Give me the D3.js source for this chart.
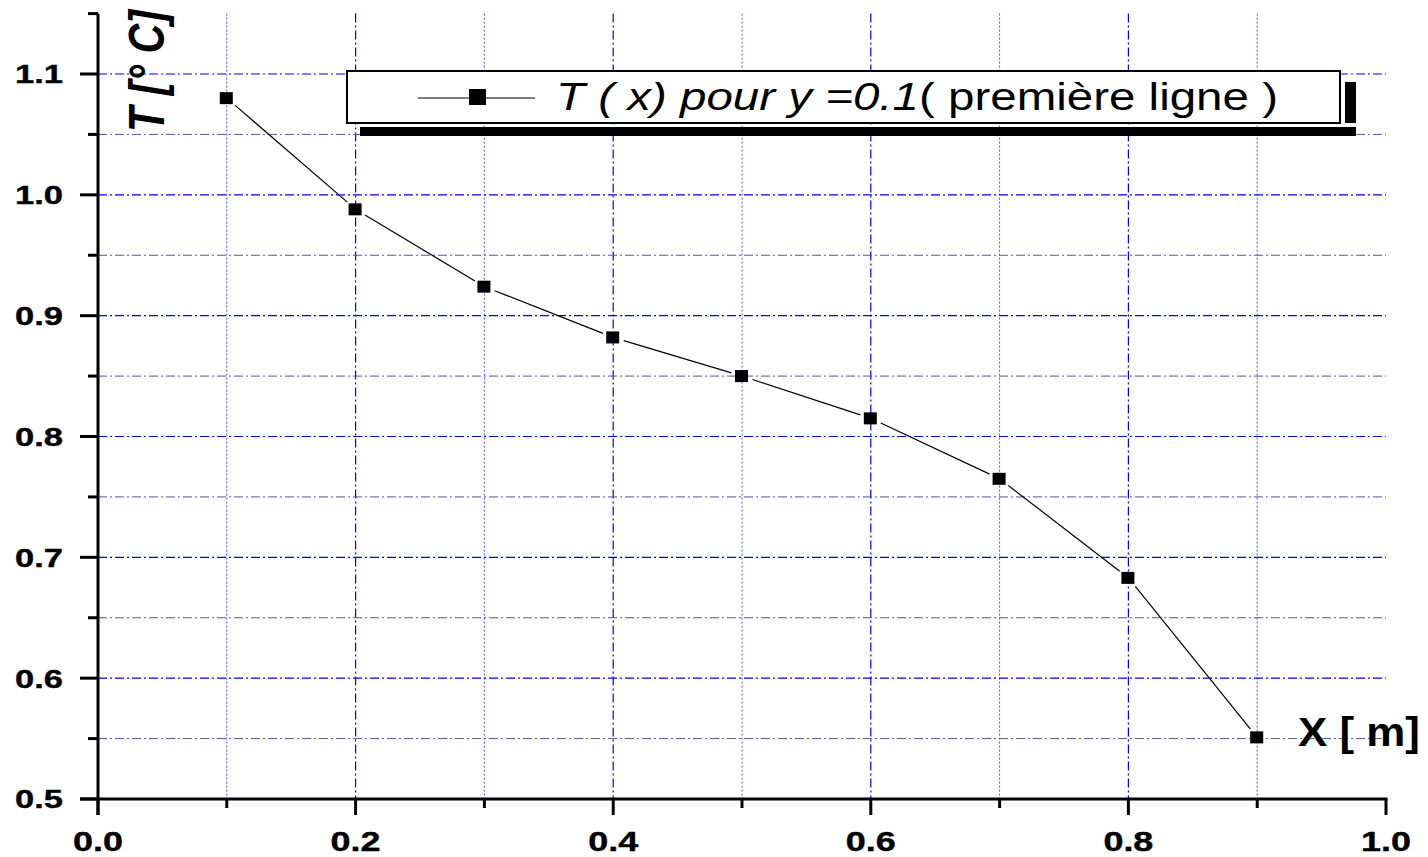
<!DOCTYPE html>
<html><head><meta charset="utf-8">
<script src="https://cdn.jsdelivr.net/npm/d3@7"></script>
<style>body{margin:0;background:#fff}svg{display:block}</style>
</head><body>
<svg id="c" width="1428" height="857"></svg>
<script>
const xValues = [0.1,0.2,0.3,0.4,0.5,0.6,0.7,0.8,0.9];
const tValues = [1.080,0.988,0.924,0.882,0.850,0.815,0.765,0.683,0.551];
const xTicks = [0.0,0.2,0.4,0.6,0.8,1.0];
const xMinor = [0.1,0.3,0.5,0.7,0.9];
const yTicks = [0.5,0.6,0.7,0.8,0.9,1.0,1.1];
const yMinor = [0.55,0.65,0.75,0.85,0.95,1.05,1.15];
const legendItalic = "T ( x) pour y =0.1";
const legendNormal = "( première ligne )";

const svg = d3.select("#c");
const x = d3.scaleLinear().domain([0,1]).range([98,1386]);
const y = d3.scaleLinear().domain([0.5,1.1]).range([799,74]);
const yTop = y(1.15);
const font = "'Liberation Sans', Arial, sans-serif";

// grid
const g = svg.append("g");
g.selectAll(".vmaj").data(xTicks.filter(d=>d>0&&d<1)).join("line")
  .attr("x1",d=>x(d)).attr("x2",d=>x(d)).attr("y1",yTop).attr("y2",y(0.5))
  .attr("stroke","#0000ff").attr("stroke-width",1.2).attr("stroke-dasharray","9,3,2,3");
g.selectAll(".vmin").data(xMinor).join("line")
  .attr("x1",d=>x(d)).attr("x2",d=>x(d)).attr("y1",yTop).attr("y2",y(0.5))
  .attr("stroke","#4d4dff").attr("stroke-width",1).attr("stroke-dasharray","2,2");
g.selectAll(".hmaj").data(yTicks.filter(d=>d>0.5)).join("line")
  .attr("x1",x(0)).attr("x2",x(1)).attr("y1",d=>y(d)).attr("y2",d=>y(d))
  .attr("stroke","#0000ff").attr("stroke-width",1.2).attr("stroke-dasharray","9,3,2,3");
g.selectAll(".hmin").data(yMinor.filter(d=>d<1.1)).join("line")
  .attr("x1",x(0)).attr("x2",x(1)).attr("y1",d=>y(d)).attr("y2",d=>y(d))
  .attr("stroke","#5555a0").attr("stroke-width",1).attr("stroke-dasharray","9,3,2,3");

// axes
const ax = svg.append("g").attr("stroke","#000");
ax.append("line").attr("x1",x(0)).attr("x2",x(0)).attr("y1",yTop).attr("y2",y(0.5)+16).attr("stroke-width",3);
ax.append("line").attr("x1",x(0)-18).attr("x2",x(1)+1.5).attr("y1",y(0.5)).attr("y2",y(0.5)).attr("stroke-width",3);
ax.selectAll(".yt").data(yTicks).join("line").attr("x1",x(0)-18).attr("x2",x(0)).attr("y1",d=>y(d)).attr("y2",d=>y(d)).attr("stroke-width",3);
ax.selectAll(".ym").data(yMinor).join("line").attr("x1",x(0)-10).attr("x2",x(0)).attr("y1",d=>y(d)).attr("y2",d=>y(d)).attr("stroke-width",3);
ax.selectAll(".xt").data(xTicks).join("line").attr("x1",d=>x(d)).attr("x2",d=>x(d)).attr("y1",y(0.5)).attr("y2",y(0.5)+16).attr("stroke-width",3);
ax.selectAll(".xm").data(xMinor).join("line").attr("x1",d=>x(d)).attr("x2",d=>x(d)).attr("y1",y(0.5)).attr("y2",y(0.5)+9).attr("stroke-width",3);

svg.selectAll(".ylab").data(yTicks).join("text")
  .attr("x",63).attr("y",d=>y(d)).attr("dy","0.36em").attr("text-anchor","end")
  .attr("font-family",font).attr("font-weight","bold").attr("font-size",26)
  .attr("stroke","#000").attr("stroke-width",0.4)
  .attr("textLength",48).attr("lengthAdjust","spacingAndGlyphs").text(d=>d.toFixed(1));
svg.selectAll(".xlab").data(xTicks).join("text")
  .attr("x",d=>x(d)).attr("y",851).attr("text-anchor","middle")
  .attr("font-family",font).attr("font-weight","bold").attr("font-size",27)
  .attr("stroke","#000").attr("stroke-width",0.4)
  .attr("textLength",50).attr("lengthAdjust","spacingAndGlyphs").text(d=>d.toFixed(1));

// axis titles
svg.append("text").attr("transform","translate(164,132) scale(1.2,1) rotate(-90)")
  .attr("font-family",font).attr("font-weight","bold").attr("font-style","italic").attr("font-size",41)
  .attr("textLength",122).attr("lengthAdjust","spacingAndGlyphs")
  .text("T [° C]");
svg.append("text").attr("x",1298).attr("y",746)
  .attr("font-family",font).attr("font-weight","bold").attr("font-size",41)
  .attr("textLength",122).attr("lengthAdjust","spacingAndGlyphs").text("X [ m]");

// data line with gaps
const pts = xValues.map((d,i)=>[x(d),y(tValues[i])]);
const gap = 11;
const segs = [];
for(let i=0;i<pts.length-1;i++){
  const [x1,y1]=pts[i],[x2,y2]=pts[i+1];
  const L=Math.hypot(x2-x1,y2-y1),ux=(x2-x1)/L,uy=(y2-y1)/L;
  segs.push([x1+ux*gap,y1+uy*gap,x2-ux*gap,y2-uy*gap]);
}
svg.selectAll(".seg").data(segs).join("line")
  .attr("x1",d=>d[0]).attr("y1",d=>d[1]).attr("x2",d=>d[2]).attr("y2",d=>d[3])
  .attr("stroke","#000").attr("stroke-width",1.2);
svg.selectAll(".mk").data(pts).join("rect")
  .attr("x",d=>d[0]-7).attr("y",d=>d[1]-6).attr("width",13).attr("height",12).attr("fill","#000");

// legend
const lg = svg.append("g");
lg.append("rect").attr("x",360).attr("y",127).attr("width",996).attr("height",9).attr("fill","#000");
lg.append("rect").attr("x",1345).attr("y",82).attr("width",11).attr("height",41).attr("fill","#000");
lg.append("rect").attr("x",347).attr("y",71).attr("width",993).attr("height",52).attr("fill","#fff").attr("stroke","#000").attr("stroke-width",2);
lg.append("line").attr("x1",418).attr("x2",535).attr("y1",98).attr("y2",98).attr("stroke","#000").attr("stroke-width",1.2);
lg.append("rect").attr("x",469).attr("y",89).attr("width",17).attr("height",16).attr("fill","#000");
const lt = lg.append("text").attr("x",556).attr("y",110).attr("font-family",font).attr("font-size",38)
  .attr("textLength",722).attr("lengthAdjust","spacingAndGlyphs");
lt.append("tspan").attr("font-style","italic").text(legendItalic);
lt.append("tspan").text(legendNormal);
</script>
</body></html>
